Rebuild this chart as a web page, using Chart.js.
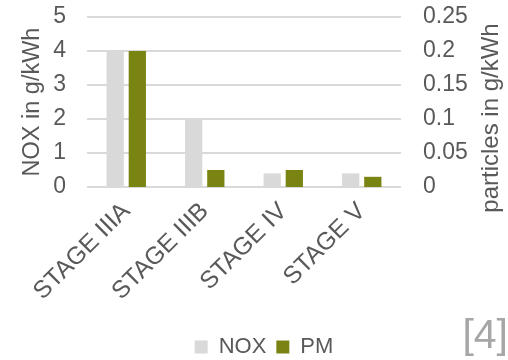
<!DOCTYPE html>
<html>
<head>
<meta charset="utf-8">
<script src="https://cdn.jsdelivr.net/npm/chart.js@4/dist/chart.umd.min.js"></script>
<style>
  html, body { margin: 0; padding: 0; background: #ffffff; }
  #wrap { position: relative; width: 508px; height: 360px; overflow: hidden; }
  #ref { position: absolute; right: 0px; top: 314px; font-family: "Liberation Sans", Arial, sans-serif;
         font-size: 41px; color: #a6a6a6; line-height: 1; }
</style>
</head>
<body>
<div id="wrap">
  <canvas id="c" width="508" height="360"></canvas>
  <div id="ref">[4]</div>
</div>
<script>
// Emission limits per stage
const stages = ['STAGE IIIA', 'STAGE IIIB', 'STAGE IV', 'STAGE V'];
const noxValues = [4, 2, 0.4, 0.4];          // g/kWh
const pmValues = [0.2, 0.025, 0.025, 0.015]; // g/kWh
const noxTicks = [0, 1, 2, 3, 4, 5];
const pmTicks = ['0', '0.05', '0.1', '0.15', '0.2', '0.25'];

const FONT = '"Liberation Sans", Arial, sans-serif';
const TEXT = '#595959';
const GRID = '#d9d9d9';

// Right-hand axis title, reading bottom to top
const rightTitle = {
  id: 'rightTitle',
  afterDraw(chart) {
    const { ctx, chartArea } = chart;
    ctx.save();
    ctx.translate(chartArea.right + 90, (chartArea.top + chartArea.bottom) / 2 + 16);
    ctx.rotate(-Math.PI / 2);
    ctx.font = '24px ' + FONT;
    ctx.fillStyle = TEXT;
    ctx.textAlign = 'center';
    ctx.textBaseline = 'middle';
    ctx.fillText('particles in g/kWh', 0, 0);
    ctx.restore();
  }
};

new Chart(document.getElementById('c'), {
  type: 'bar',
  data: {
    labels: stages,
    datasets: [
      { label: 'NOX', data: noxValues, backgroundColor: '#d9d9d9', yAxisID: 'y',
        categoryPercentage: 0.564, barPercentage: 0.78 },
      { label: 'PM', data: pmValues, backgroundColor: '#7a8412', yAxisID: 'y1',
        categoryPercentage: 0.564, barPercentage: 0.78 }
    ]
  },
  options: {
    responsive: false,
    animation: false,
    layout: { padding: { top: 17, left: 0, right: -20, bottom: -8 } },
    plugins: {
      tooltip: { enabled: false },
      legend: {
        position: 'bottom',
        labels: {
          boxWidth: 13, boxHeight: 13, padding: 10,
          color: TEXT, font: { family: FONT, size: 22 }
        }
      }
    },
    scales: {
      x: {
        grid: { display: false },
        border: { display: false },
        ticks: { color: TEXT, font: { family: FONT, size: 24.5 }, minRotation: 45, maxRotation: 45,
                 padding: 2, autoSkip: false },
        afterFit(s) { s.height = 139; }
      },
      y: {
        position: 'left',
        min: 0, max: 5,
        afterBuildTicks(s) { s.ticks = noxTicks.map(v => ({ value: v })); },
        grid: { color: GRID, lineWidth: 2, drawTicks: true, tickLength: 21, tickColor: 'rgba(0,0,0,0)' },
        border: { display: false },
        ticks: { color: TEXT, font: { family: FONT, size: 23 }, padding: 0, autoSkip: false },
        title: { display: true, text: 'NOX in g/kWh', color: TEXT,
                 font: { family: FONT, size: 23.5 }, padding: { top: 18, bottom: 0 } },
        afterFit(s) { s.width = 87; }
      },
      y1: {
        position: 'right',
        min: 0, max: 0.25,
        afterBuildTicks(s) { s.ticks = pmTicks.map(v => ({ value: parseFloat(v) })); },
        grid: { display: false, drawOnChartArea: false, tickLength: 22, tickColor: 'rgba(0,0,0,0)' },
        border: { display: false },
        ticks: { color: TEXT, font: { family: FONT, size: 23 }, padding: 0, autoSkip: false,
                 callback: (v, i) => pmTicks[i] },
        afterFit(s) { s.width = 127; }
      }
    }
  },
  plugins: [rightTitle]
});
</script>
</body>
</html>
